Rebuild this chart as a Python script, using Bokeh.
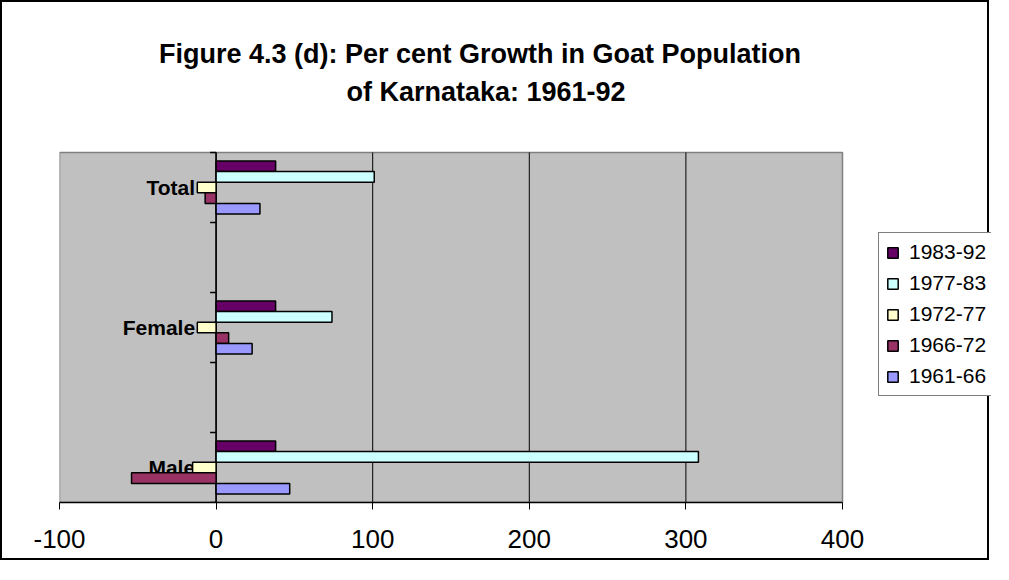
from bokeh.plotting import figure
from bokeh.models import (Range1d, FixedTicker, Legend, LegendItem,
                          ColumnDataSource, Label)
from bokeh.transform import dodge
from bokeh.core.properties import value
from bokeh.embed import file_html
from bokeh.resources import INLINE

# ---------------- data ----------------
title_lines = ["Figure 4.3 (d): Per cent Growth in Goat Population",
               "of Karnataka: 1961-92"]
categories = ["Total", "Female", "Male"]
periods = ["1983-92", "1977-83", "1972-77", "1966-72", "1961-66"]
g_1983_92 = [38, 38, 38]
g_1977_83 = [101, 74, 308]
g_1972_77 = [-12, -12, -15]
g_1966_72 = [-7, 8, -54]
g_1961_66 = [28, 23, 47]
x_ticks = [-100, 0, 100, 200, 300, 400]

series = [g_1983_92, g_1977_83, g_1972_77, g_1966_72, g_1961_66]
colors = ["#660066", "#CCFFFF", "#FFFFCC", "#993366", "#9999FF"]

FONT = "Liberation Sans"
n = len(categories)
ypos = [(n - 1 - i) * 2 + 0.5 for i in range(n)]
ymax = 2 * n - 1

# ---------------- layout (pixels inside the canvas) ----------------
W, H = 989, 560
FRAME_L, FRAME_T, FRAME_B = 57, 0, 500          # frame spans the canvas width
AREA_R = 840                                     # right edge of grey plot area
xmin, xmax = x_ticks[0], x_ticks[-1]
ppx = (AREA_R - FRAME_L) / (xmax - xmin)         # pixels per x unit
ppy = (FRAME_B - 150) / ymax                     # pixels per y unit (area top 150)
x_end = xmin + (W - FRAME_L) / ppx
y_end = (FRAME_B - FRAME_T) / ppy

def px_x(px):
    return xmin + (px - FRAME_L) / ppx

def px_y(py):
    return (FRAME_B - py) / ppy

data = dict(cat=categories, ypos=ypos)
for per, vals in zip(periods, series):
    data[per] = vals
source = ColumnDataSource(data)

p = figure(width=W, height=H, output_backend="svg", toolbar_location=None,
           x_range=Range1d(xmin, x_end), y_range=Range1d(0, y_end),
           y_axis_location=None,
           min_border_left=FRAME_L, min_border_right=0, min_border_top=FRAME_T,
           min_border_bottom=H - FRAME_B,
           background_fill_color="white", border_fill_color="white",
           styles={"border": "2px solid black"})
p.outline_line_color = None
p.xgrid.grid_line_color = None
p.ygrid.grid_line_color = None

# grey plot area
p.quad(left=[xmin], right=[xmax], bottom=[0], top=[ymax],
       fill_color="#C0C0C0", line_color="#808080", line_width=1.5)
# vertical gridlines
inner = x_ticks[1:-1]
p.segment(x0=inner, x1=inner, y0=[0] * len(inner), y1=[ymax] * len(inner),
          line_color="black", line_width=1)

# x axis
p.xaxis.ticker = FixedTicker(ticks=x_ticks)
p.xaxis.bounds = (xmin, xmax)
p.xaxis.major_label_overrides = {t: str(t) for t in x_ticks}
p.xaxis.axis_line_color = "black"
p.xaxis.axis_line_width = 1.5
p.xaxis.major_tick_out = 7
p.xaxis.major_tick_in = 0
p.xaxis.major_tick_line_color = "black"
p.xaxis.minor_tick_line_color = None
p.xaxis.major_label_text_font = FONT
p.xaxis.major_label_text_font_size = "26px"
p.xaxis.major_label_text_color = "black"
p.xaxis.major_label_standoff = 20

# category axis drawn at zero
p.segment(x0=[0], x1=[0], y0=[0], y1=[ymax], line_color="black", line_width=1.5)
bounds = list(range(0, ymax + 1))
p.ray(x=[0] * len(bounds), y=bounds, length=6, angle=3.14159265,
      length_units="screen", line_color="black", line_width=1.5)

p.text(x=[0] * n, y=ypos, text=categories, x_offset=-21,
       text_align="right", text_baseline="middle",
       text_font=value(FONT), text_font_style="bold",
       text_font_size="21px", text_color="black")

# bars
bar_h = 0.152
items = []
for j, (per, col) in enumerate(zip(periods, colors)):
    off = (2 - j) * bar_h
    r = p.hbar(y=dodge("ypos", off, range=p.y_range), left=0, right=per,
               height=bar_h, fill_color=col, line_color="black",
               line_width=1.5, source=source)
    items.append(LegendItem(label=per, renderers=[r]))

legend = Legend(items=items, location=(819, 106), orientation="vertical",
                glyph_width=13, glyph_height=13, label_standoff=10,
                padding=7, spacing=7, margin=0,
                label_text_font=FONT, label_text_font_size="21px",
                label_text_color="black",
                border_line_color="black", border_line_width=1,
                background_fill_color="white", background_fill_alpha=1)
p.add_layout(legend, "center")

# title lines
for txt, cx, cy in zip(title_lines, [477.5, 483.5], [51, 89]):
    p.add_layout(Label(x=px_x(cx), y=px_y(cy), text=txt, text_align="center",
                       text_baseline="middle", text_font=FONT,
                       text_font_style="bold", text_font_size="27px",
                       text_color="black"))

open("out.html", "w").write(file_html(p, INLINE))
